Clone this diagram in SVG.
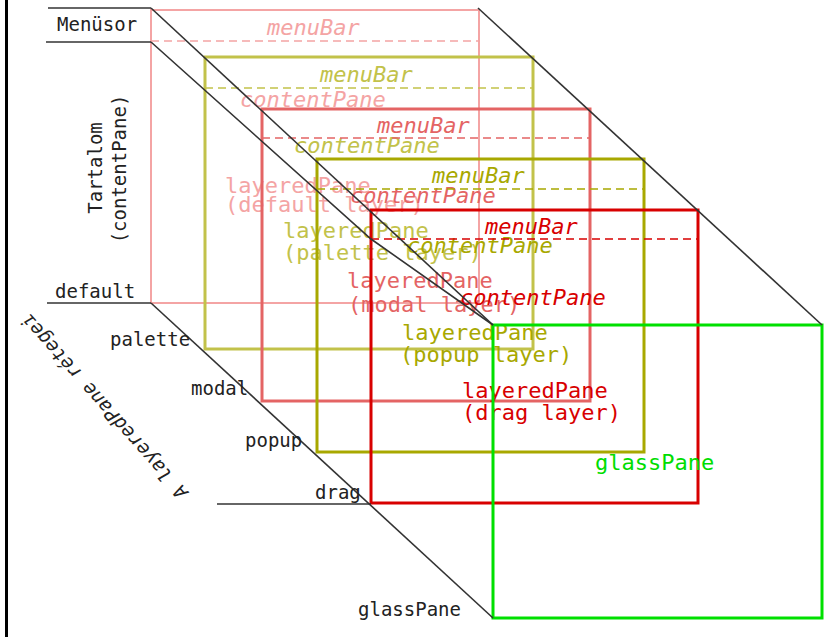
<svg xmlns="http://www.w3.org/2000/svg" width="835" height="637" viewBox="0 0 835 637">
<style>
.lbl{font-family:"DejaVu Sans Mono","Liberation Mono",monospace;font-size:19px;fill:#222}
.pt{font-family:"DejaVu Sans Mono","Liberation Mono",monospace;font-size:22px}
.it{font-style:italic}
.ln{stroke:#333;stroke-width:1.6;fill:none}
.fr{fill:none;stroke-width:3}
.ds{stroke-width:1.5;stroke-dasharray:8 5;fill:none}
.c1{stroke:#f4a4a4}
.c2{stroke:#c2c24a}
.c3{stroke:#e46464}
.c4{stroke:#a8a800}
.c5{stroke:#d80000}
.c6{stroke:#00e000}
.t1{fill:#f4a4a4}
.t2{fill:#c2c24a}
.t3{fill:#e46464}
.t4{fill:#a8a800}
.t5{fill:#d80000}
.t6{fill:#00dd00}
</style>
<rect width="835" height="637" fill="#fff"/>
<line x1="6.5" y1="0" x2="6.5" y2="637" stroke="#000" stroke-width="3"/>

<g id="pane-default">
<rect class="fr c1" style="stroke-width:2" x="151" y="10" width="328" height="293"/>
<line class="ds c1" x1="151" y1="41" x2="479" y2="41"/>
<text class="pt it t1" x="267" y="35">menuBar</text>
<text class="pt it t1" x="240" y="107">contentPane</text>
<text class="pt t1" x="225" y="193">layeredPane</text>
<text class="pt t1" x="225" y="212">(default layer)</text>
</g>
<g id="pane-palette">
<rect class="fr c2" x="205" y="57" width="328" height="292"/>
<line class="ds c2" x1="205" y1="88" x2="533" y2="88"/>
<text class="pt it t2" x="320" y="82">menuBar</text>
<text class="pt it t2" x="294" y="153">contentPane</text>
<text class="pt t2" x="283" y="238">layeredPane</text>
<text class="pt t2" x="283" y="260">(palette layer)</text>
</g>
<g id="pane-modal">
<rect class="fr c3" x="262" y="109" width="328" height="292"/>
<line class="ds c3" x1="262" y1="138" x2="590" y2="138"/>
<text class="pt it t3" x="377" y="133">menuBar</text>
<text class="pt it t3" x="350" y="203">contentPane</text>
<text class="pt t3" x="347" y="288">layeredPane</text>
<text class="pt t3" x="348" y="312">(modal layer)</text>
</g>
<g id="pane-popup">
<rect class="fr c4" x="317" y="159" width="327" height="293"/>
<line class="ds c4" x1="317" y1="189" x2="644" y2="189"/>
<text class="pt it t4" x="432" y="183">menuBar</text>
<text class="pt it t4" x="407" y="253">contentPane</text>
<text class="pt t4" x="402" y="340">layeredPane</text>
<text class="pt t4" x="400" y="362">(popup layer)</text>
</g>
<g id="pane-drag">
<rect class="fr c5" x="371" y="210" width="327" height="293"/>
<line class="ds c5" x1="371" y1="239" x2="698" y2="239"/>
<text class="pt it t5" x="485" y="234">menuBar</text>
<text class="pt it t5" x="460" y="305">contentPane</text>
<text class="pt t5" x="462" y="398">layeredPane</text>
<text class="pt t5" x="462" y="420">(drag layer)</text>
</g>
<g id="pane-glass">
<rect class="fr c6" x="493" y="325" width="329" height="293"/>
<text class="pt t6" x="595" y="470">glassPane</text>
</g>

<g id="connectors">
<line class="ln" x1="48" y1="8" x2="151" y2="8"/>
<line class="ln" x1="46" y1="42" x2="151" y2="42"/>
<line class="ln" x1="151" y1="8" x2="493" y2="325"/>
<polyline class="ln" points="151,42 371,239 493,325"/>
<line class="ln" x1="478" y1="8" x2="822" y2="325"/>
<line class="ln" x1="47" y1="303" x2="151" y2="303"/>
<line class="ln" x1="151" y1="303" x2="493" y2="618"/>
<line class="ln" x1="217" y1="504" x2="371" y2="504"/>
</g>

<g id="labels">
<text class="lbl" x="57" y="31">Menüsor</text>
<text class="lbl" transform="translate(102,168) rotate(-90)" text-anchor="middle">Tartalom</text>
<text class="lbl" transform="translate(126,169) rotate(-90)" text-anchor="middle">(contentPane)</text>
<text class="lbl" x="55" y="298">default</text>
<text class="lbl" x="110" y="346">palette</text>
<text class="lbl" x="191" y="395">modal</text>
<text class="lbl" x="245" y="447">popup</text>
<text class="lbl" x="315" y="499">drag</text>
<text class="lbl" x="358" y="616">glassPane</text>
<text class="lbl it" transform="translate(109,402) rotate(-131.6)" text-anchor="middle">A layeredPane rétegei</text>
</g>
</svg>
